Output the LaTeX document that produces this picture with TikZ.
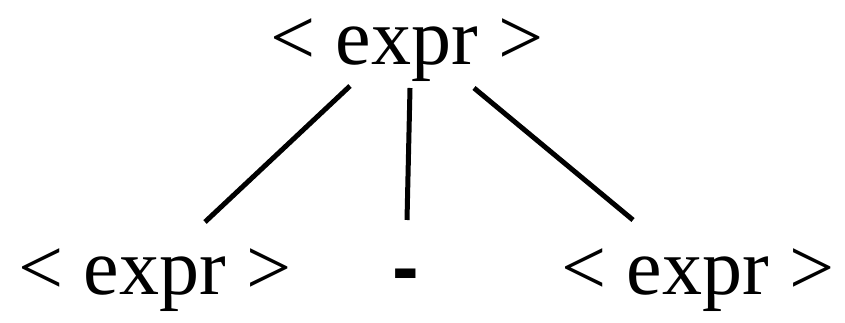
\documentclass[tikz,border=0pt]{standalone}
\usepackage{fontspec}
\setmainfont{Liberation Serif}
\newfontfamily\hyfont{Liberation Sans}
\tikzset{
  sym/.style={inner sep=0pt, anchor=base, font=\fontsize{80}{96}\selectfont},
  edge/.style={line width=5pt}
}
\begin{document}
\begin{tikzpicture}[x=1pt,y=1pt]
\useasboundingbox (0,0) rectangle (845,323);
\node[sym] (root) at (407,258) {< expr >};
\node[sym] (left) at (155,28) {< expr >};
\node[sym, font=\hyfont\bfseries\fontsize{80}{96}\selectfont] (mid) at (406,28) {-};
\node[sym] (right) at (698,28) {< expr >};
\coordinate (r1) at (350,237);
\coordinate (r2) at (410,235);
\coordinate (r3) at (474,235);
\coordinate (l1) at (205,101);
\coordinate (m1) at (407,103);
\coordinate (q1) at (633,103);
\draw[edge] (r1) -- (l1);
\draw[edge] (r2) -- (m1);
\draw[edge] (r3) -- (q1);
\end{tikzpicture}
\end{document}
